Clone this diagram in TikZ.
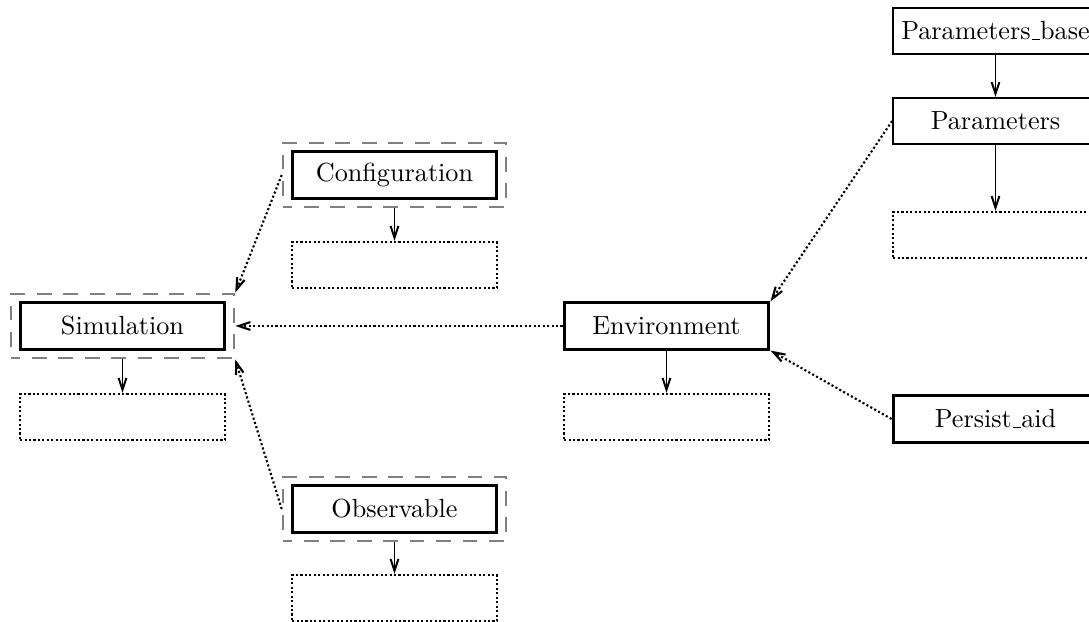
\documentclass[tikz,border=0pt]{standalone}
\usetikzlibrary{arrows.meta,fit}

\newcommand{\uscore}{\leavevmode\kern.06em\vbox{\hrule width.3em}}

\tikzset{
  cls/.style={draw, line width=1.15pt, minimum width=78.2pt, minimum height=17.6pt, inner xsep=1pt},
  clsthin/.style={cls, line width=0.75pt},
  grp/.style={draw=gray, line width=0.75pt, dash pattern=on 5.6pt off 4.5pt, dash phase=2pt, inner sep=3pt},
  slot/.style={draw, line width=0.8pt, dash pattern=on 0.8pt off 0.9pt, minimum width=78.2pt, minimum height=17.6pt},
  tip/.style={-{Straight Barb[length=4.5pt,width=3pt]}},
  owns/.style={tip, line width=0.75pt},
  uses/.style={tip, line width=0.8pt, dash pattern=on 0.8pt off 0.9pt}
}

\begin{document}
\begin{tikzpicture}[x=0.3817pt, y=-0.3817pt]
	% Frame
	\useasboundingbox (0,0) rectangle (1089,622);
	\clip (0,0) rectangle (1089,622);

	% Simulation
	\node[cls] (sim) at (122.5,326) {Simulation};
	\node[grp, fit=(sim)] (simg) {};
	\node[slot] (simx) at (122.5,417) {};

	% Configuration and Observable
	\node[cls] (conf) at (394.5,175) {Configuration};
	\node[grp, fit=(conf)] (confg) {};
	\node[slot] (confx) at (394.5,265) {};
	\node[cls] (obs) at (394.5,509) {Observable};
	\node[grp, fit=(obs)] (obsg) {};
	\node[slot] (obsx) at (394.5,598) {};

	% Environment
	\node[cls] (env) at (666.5,326) {Environment};
	\node[slot] (envx) at (666.5,417) {};

	% Right column
	\node[clsthin] (parb) at (995.5,31) {Parameters\uscore base};
	\node[clsthin] (par) at (995.5,121) {Parameters};
	\node[slot] (parx) at (995.5,235) {};
	\node[cls] (pers) at (995.5,419) {Persist\uscore aid};

	% Members
	\draw[owns] (simg) -- (simx);
	\draw[owns] (confg) -- (confx);
	\draw[owns] (obsg) -- (obsx);
	\draw[owns] (env) -- (envx);
	\draw[owns] (parb) -- (par);
	\draw[owns] (par) -- (parx);

	% Dependencies
	\draw[uses] (env.west) -- (simg.east);
	\draw[uses] (confg.west) -- (simg.north east);
	\draw[uses] (obsg.west) -- (simg.south east);
	\draw[uses] (par.west) -- (env.north east);
	\draw[uses] (pers.west) -- (env.south east);
\end{tikzpicture}
\end{document}
